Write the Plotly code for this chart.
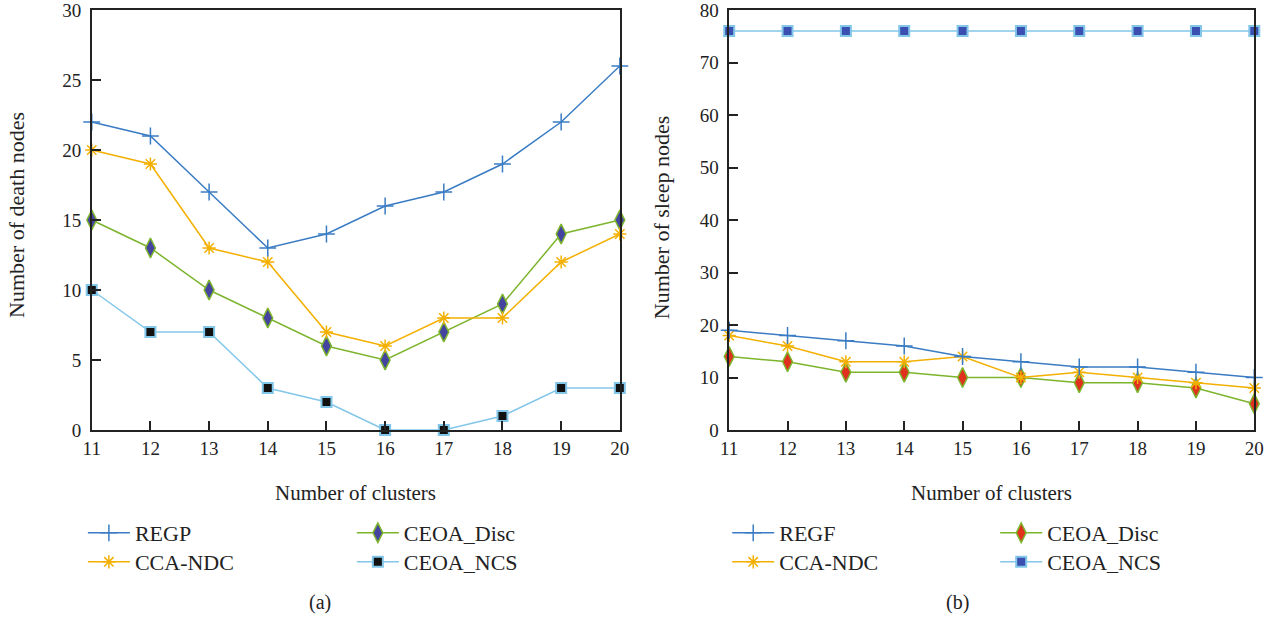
import plotly.graph_objects as go

clusters = [11, 12, 13, 14, 15, 16, 17, 18, 19, 20]

# Panel (a): number of death nodes
a_regp = [22, 21, 17, 13, 14, 16, 17, 19, 22, 26]
a_cca = [20, 19, 13, 12, 7, 6, 8, 8, 12, 14]
a_disc = [15, 13, 10, 8, 6, 5, 7, 9, 14, 15]
a_ncs = [10, 7, 7, 3, 2, 0, 0, 1, 3, 3]

# Panel (b): number of sleep nodes
b_regf = [19, 18, 17, 16, 14, 13, 12, 12, 11, 10]
b_cca = [18, 16, 13, 13, 14, 10, 11, 10, 9, 8]
b_disc = [14, 13, 11, 11, 10, 10, 9, 9, 8, 5]
b_ncs = [76, 76, 76, 76, 76, 76, 76, 76, 76, 76]

FONT = "Liberation Serif"
BLUE = "#3a7cc3"
ORANGE = "#f4b000"
GREEN = "#7cb52c"
LIGHTBLUE = "#82c6ea"

W, H = 1284, 618
L_A, R_A = 84, 620
L_B, R_B = 731, 1264
TOP, BOT = 10, 430

fig = go.Figure()

def add(x, y, name, xa, ya, legend, line_color, symbol, msize, mcolor, mline_color, mline_w):
    fig.add_trace(go.Scatter(
        x=x, y=y, name=name, mode="lines+markers", showlegend=True,
        xaxis=xa, yaxis=ya, legend=legend, cliponaxis=False,
        line=dict(color=line_color, width=1.5),
        marker=dict(symbol=symbol, size=msize, color=mcolor,
                    line=dict(color=mline_color, width=mline_w)),
    ))

# Panel (a)
add(clusters, a_ncs, "CEOA_NCS", "x", "y", "legend4", LIGHTBLUE, "square", 10, "#111111", LIGHTBLUE, 2)
add(clusters, a_disc, "CEOA_Disc", "x", "y", "legend3", GREEN, "diamond-tall", 14, "#4443a0", GREEN, 1.5)
add(clusters, a_cca, "CCA-NDC", "x", "y", "legend2", ORANGE, "asterisk-open", 11, ORANGE, ORANGE, 1.5)
add(clusters, a_regp, "REGP", "x", "y", "legend", BLUE, "cross-thin-open", 12, BLUE, BLUE, 1.5)

# Panel (b)
add(clusters, b_ncs, "CEOA_NCS", "x2", "y2", "legend8", LIGHTBLUE, "square", 10, "#3a4fb0", LIGHTBLUE, 2)
add(clusters, b_disc, "CEOA_Disc", "x2", "y2", "legend7", GREEN, "diamond-tall", 14, "#e0301e", GREEN, 1.5)
add(clusters, b_cca, "CCA-NDC", "x2", "y2", "legend6", ORANGE, "asterisk-open", 11, ORANGE, ORANGE, 1.5)
add(clusters, b_regf, "REGF", "x2", "y2", "legend5", BLUE, "cross-thin-open", 12, BLUE, BLUE, 1.5)

axis_common = dict(showline=True, linecolor="#222222", linewidth=1.5, mirror=True,
                   ticks="inside", ticklen=9, tickwidth=1.5, tickcolor="#222222",
                   showgrid=False, zeroline=False, ticklabeloverflow="allow",
                   tickfont=dict(family=FONT, size=19, color="#222222"))

def px_x(p):
    return p / W

def py(p):
    return (BOT - p) / (BOT - TOP)

fig.update_layout(
    width=W, height=H,
    margin=dict(l=0, r=0, t=TOP, b=H - BOT),
    paper_bgcolor="white", plot_bgcolor="white",
    showlegend=True,
    font=dict(family=FONT, size=19, color="#222222"),
    xaxis=dict(domain=[px_x(L_A), px_x(R_A)], range=[11, 20], dtick=1, anchor="y", **axis_common),
    yaxis=dict(domain=[0, 1], range=[0, 30], dtick=5, anchor="x", ticklabelstandoff=5, **axis_common),
    xaxis2=dict(domain=[px_x(L_B), px_x(R_B)], range=[11, 20], dtick=1, anchor="y2", **axis_common),
    yaxis2=dict(domain=[0, 1], range=[0, 80], dtick=10, anchor="x2", ticklabelstandoff=5, **axis_common),
)

def legend_box(xp, yp):
    return dict(x=px_x(xp), y=py(yp), xanchor="left", yanchor="middle",
                orientation="v", bgcolor="rgba(0,0,0,0)",
                font=dict(family=FONT, size=22, color="#222222"),
                itemwidth=42, tracegroupgap=0)

ROW1, ROW2 = 533, 562
fig.update_layout(
    legend=legend_box(75, ROW1),
    legend2=legend_box(75, ROW2),
    legend3=legend_box(348, ROW1),
    legend4=legend_box(348, ROW2),
    legend5=legend_box(729, ROW1),
    legend6=legend_box(729, ROW2),
    legend7=legend_box(1001, ROW1),
    legend8=legend_box(1001, ROW2),
)

ann = []
ann.append(dict(text="Number of clusters", x=px_x((L_A + R_A) / 2), y=py(493), xref="paper", yref="paper",
                showarrow=False, font=dict(family=FONT, size=21), xanchor="center", yanchor="middle"))
ann.append(dict(text="Number of clusters", x=px_x((L_B + R_B) / 2), y=py(493), xref="paper", yref="paper",
                showarrow=False, font=dict(family=FONT, size=21), xanchor="center", yanchor="middle"))
ann.append(dict(text="Number of death nodes", x=px_x(7), y=py(215), xref="paper", yref="paper",
                showarrow=False, textangle=-90, font=dict(family=FONT, size=22), xanchor="center", yanchor="middle"))
ann.append(dict(text="Number of sleep nodes", x=px_x(662), y=py(218), xref="paper", yref="paper",
                showarrow=False, textangle=-90, font=dict(family=FONT, size=22), xanchor="center", yanchor="middle"))
ann.append(dict(text="(a)", x=px_x(316), y=py(602), xref="paper", yref="paper",
                showarrow=False, font=dict(family=FONT, size=20), xanchor="center", yanchor="middle"))
ann.append(dict(text="(b)", x=px_x(963), y=py(602), xref="paper", yref="paper",
                showarrow=False, font=dict(family=FONT, size=20), xanchor="center", yanchor="middle"))
fig.update_layout(annotations=ann)

fig.write_html("out.html")
